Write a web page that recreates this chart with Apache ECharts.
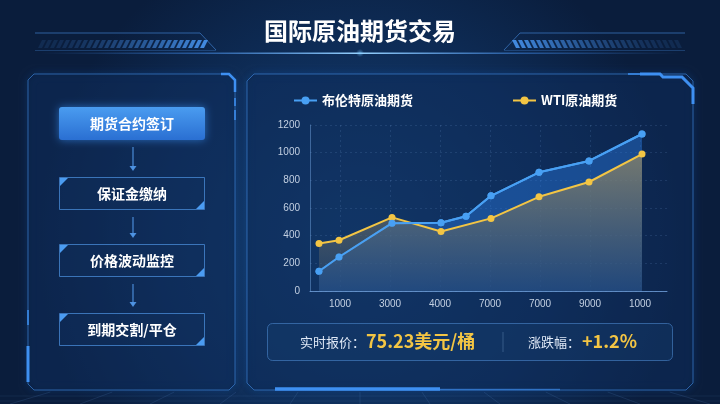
<!DOCTYPE html>
<html>
<head>
<meta charset="utf-8">
<script src="https://cdn.jsdelivr.net/npm/echarts/dist/echarts.min.js"></script>
<style>
html,body{margin:0;padding:0;background:#0b1f3e;}
#main{width:720px;height:404px;}
</style>
</head>
<body>
<div id="main"></div>
<script>
// ---------- data ----------
const titleText = '国际原油期货交易';
const seriesNames = ['布伦特原油期货', 'WTI原油期货'];
const xTickPositions = [1, 2, 3, 4, 5, 6, 7];
const xTickLabels = ['1000', '3000', '4000', '7000', '7000', '9000', '1000'];
const brentX = [0.58, 0.98, 2.04, 3.02, 3.52, 4.02, 4.98, 5.98, 7.04];
const brentY = [143, 246, 490, 493, 541, 688, 858, 940, 1135];
const wtiX = [0.58, 0.98, 2.04, 3.02, 4.02, 4.98, 5.98, 7.04];
const wtiY = [343, 367, 532, 430, 525, 681, 788, 990];
const flowSteps = ['期货合约签订', '保证金缴纳', '价格波动监控', '到期交割/平仓'];
const priceLabel = '实时报价：';
const priceValue = '75.23美元/桶';
const changeLabel = '涨跌幅：';
const changeValue = '+1.2%';

const brentData = brentX.map((x, i) => [x, brentY[i]]);
const wtiData = wtiX.map((x, i) => [x, wtiY[i]]);

const CJK = "'Noto Sans CJK SC', 'Noto Sans', sans-serif";
const BLUE = '#48a0f4';
const GOLD = '#f3c544';
const BRIGHT = '#3e90f2';

// ---------- decorations ----------
const g = [];
// title underline glow
g.push({type:'rect', silent:true, shape:{x:40, y:52.5, width:640, height:1.5},
  style:{fill:{type:'linear', x:0, y:0, x2:1, y2:0, colorStops:[
    {offset:0, color:'rgba(60,130,220,0)'},{offset:0.25, color:'rgba(60,130,220,0.55)'},
    {offset:0.5, color:'rgba(150,210,255,1)'},{offset:0.75, color:'rgba(60,130,220,0.55)'},
    {offset:1, color:'rgba(60,130,220,0)'}]}}});
g.push({type:'ellipse', silent:true, shape:{cx:360, cy:53, rx:70, ry:4},
  style:{fill:{type:'radial', x:0.5, y:0.5, r:0.5, colorStops:[
    {offset:0, color:'rgba(120,200,255,0.55)'},{offset:1, color:'rgba(120,200,255,0)'}]}}});

// striped header decorations
function stripes(mirror) {
  const mx = x => mirror ? 720 - x : x;
  g.push({type:'polyline', silent:true, shape:{points:[[mx(35),33],[mx(200),33],[mx(216),50]]},
    style:{stroke:'rgba(70,140,225,0.6)', lineWidth:1, fill:null}});
  g.push({type:'line', silent:true, shape:{x1:mx(35), y1:50.5, x2:mx(216), y2:50.5},
    style:{stroke:'rgba(70,140,225,0.3)', lineWidth:1}});
  for (let i = 0; i < 28; i++) {
    const x = 38 + i * 6;
    const a = 0.12 + 0.8 * Math.pow(i / 27, 1.6);
    const pts = [[x + 4, 40], [x + 8, 40], [x + 4, 48], [x, 48]].map(p => [mx(p[0]), p[1]]);
    g.push({type:'polygon', silent:true, shape:{points:pts}, style:{fill:'rgba(70,145,235,' + a.toFixed(2) + ')'}});
  }
}
stripes(false);
stripes(true);

// title
g.push({type:'text', silent:true, style:{text:titleText, x:360, y:31, align:'center', verticalAlign:'middle',
  fill:'#ffffff', font:'bold 24px ' + CJK, shadowColor:'rgba(80,160,255,0.6)', shadowBlur:6}});

// floor grid
for (let xb = -900; xb <= 1620; xb += 70) {
  const x1 = 360 + (xb - 360) * (392 - 300) / 104;
  const x2 = xb;
  g.push({type:'line', silent:true, shape:{x1:x1, y1:392, x2:x2, y2:404}, style:{stroke:'rgba(110,160,230,0.14)', lineWidth:1}});
}
[396, 401].forEach(y => g.push({type:'line', silent:true, shape:{x1:0, y1:y, x2:720, y2:y}, style:{stroke:'rgba(110,160,230,0.1)', lineWidth:1}}));

// panels
function panel(x1, y1, x2, y2, c) {
  return [[x1 + c, y1], [x2 - c, y1], [x2, y1 + c], [x2, y2 - c], [x2 - c, y2], [x1 + c, y2], [x1, y2 - c], [x1, y1 + c]];
}
g.push({type:'polygon', silent:true, shape:{points:panel(28, 74, 235, 390, 6)},
  style:{fill:'rgba(10,32,66,0.45)', stroke:'rgba(55,120,200,0.75)', lineWidth:1, shadowColor:'rgba(40,120,230,0.35)', shadowBlur:8}});
g.push({type:'polygon', silent:true, shape:{points:panel(247, 74, 693, 390, 7)},
  style:{fill:'rgba(10,32,66,0.45)', stroke:'rgba(55,120,200,0.75)', lineWidth:1, shadowColor:'rgba(40,120,230,0.35)', shadowBlur:8}});
// accents
g.push({type:'polyline', silent:true, shape:{points:[[221,74],[229,74],[235,80],[235,92]]}, style:{stroke:BRIGHT, lineWidth:2.5, fill:null}});
g.push({type:'line', silent:true, shape:{x1:235, y1:98, x2:235, y2:106}, style:{stroke:BRIGHT, lineWidth:1.5}});
g.push({type:'line', silent:true, shape:{x1:235, y1:110, x2:235, y2:120}, style:{stroke:BRIGHT, lineWidth:1.5}});
g.push({type:'line', silent:true, shape:{x1:28, y1:346, x2:28, y2:382}, style:{stroke:BRIGHT, lineWidth:3}});
g.push({type:'line', silent:true, shape:{x1:28, y1:310, x2:28, y2:325}, style:{stroke:BRIGHT, lineWidth:1.5}});
g.push({type:'polyline', silent:true, shape:{points:[[640,74],[660,74],[663,77],[682,77],[693,88],[693,104]]}, style:{stroke:BRIGHT, lineWidth:3, fill:null}});
g.push({type:'line', silent:true, shape:{x1:628, y1:74, x2:640, y2:74}, style:{stroke:BRIGHT, lineWidth:1.5}});
g.push({type:'line', silent:true, shape:{x1:275, y1:389, x2:440, y2:389}, style:{stroke:BRIGHT, lineWidth:3.5}});
g.push({type:'line', silent:true, shape:{x1:440, y1:389.5, x2:560, y2:389.5}, style:{stroke:'rgba(62,144,242,0.6)', lineWidth:1.5}});

// flow boxes
const boxTops = [107, 177, 244, 313];
const boxH = 33;
flowSteps.forEach((t, i) => {
  const y = boxTops[i];
  if (i === 0) {
    g.push({type:'rect', silent:true, shape:{x:59, y:y, width:146, height:boxH, r:3},
      style:{fill:{type:'linear', x:0, y:0, x2:0, y2:1, colorStops:[{offset:0, color:'#4a9cf0'},{offset:1, color:'#2a6fd2'}]},
        shadowColor:'rgba(60,150,255,0.6)', shadowBlur:8}});
  } else {
    g.push({type:'rect', silent:true, shape:{x:59.5, y:y + 0.5, width:145, height:boxH - 1},
      style:{fill:'rgba(18,50,95,0.35)', stroke:'rgba(70,135,210,0.8)', lineWidth:1}});
    g.push({type:'polygon', silent:true, shape:{points:[[60,y + 1],[68,y + 1],[60,y + 9]]}, style:{fill:'#4b9cf2'}});
    g.push({type:'polygon', silent:true, shape:{points:[[204,y + boxH - 1],[196,y + boxH - 1],[204,y + boxH - 9]]}, style:{fill:'#4b9cf2'}});
  }
  g.push({type:'text', silent:true, style:{text:t, x:132, y:y + boxH / 2 + 0.5, align:'center', verticalAlign:'middle',
    fill:'#ffffff', font:'bold 14px ' + CJK}});
  if (i < flowSteps.length - 1) {
    const a1 = y + boxH + 7, a2 = boxTops[i + 1] - 8;
    g.push({type:'line', silent:true, shape:{x1:133, y1:a1, x2:133, y2:a2}, style:{stroke:'rgba(80,150,230,0.9)', lineWidth:1.2}});
    g.push({type:'polygon', silent:true, shape:{points:[[129.5,a2 - 3],[136.5,a2 - 3],[133,a2 + 2]]}, style:{fill:'rgba(80,150,230,0.95)'}});
  }
});

// info box
g.push({type:'rect', silent:true, shape:{x:267.5, y:323.5, width:405, height:37, r:5},
  style:{fill:'rgba(22,62,112,0.35)', stroke:'rgba(75,135,205,0.6)', lineWidth:1}});
g.push({type:'line', silent:true, shape:{x1:503, y1:332, x2:503, y2:352}, style:{stroke:'rgba(120,160,210,0.35)', lineWidth:1}});
g.push({type:'text', silent:true, style:{text:priceLabel, x:300, y:342, align:'left', verticalAlign:'middle', fill:'#dfe8f6', font:'13px ' + CJK}});
g.push({type:'text', silent:true, style:{text:priceValue, x:366, y:341, align:'left', verticalAlign:'middle', fill:GOLD, font:'bold 18px ' + CJK}});
g.push({type:'text', silent:true, style:{text:changeLabel, x:528, y:342, align:'left', verticalAlign:'middle', fill:'#dfe8f6', font:'13px ' + CJK}});
g.push({type:'text', silent:true, style:{text:changeValue, x:582, y:341, align:'left', verticalAlign:'middle', fill:GOLD, font:'bold 18px ' + CJK}});

// ---------- chart ----------
const chart = echarts.init(document.getElementById('main'));
const option = {
  backgroundColor: {type:'radial', x:0.5, y:0.6, r:0.8, colorStops:[
    {offset:0, color:'#133f72'}, {offset:0.6, color:'#0e2d58'}, {offset:1, color:'#0a1d3c'}]},
  animation: false,
  graphic: {elements: g},
  legend: {
    data: seriesNames,
    left: 288, top: 89,
    itemWidth: 23, itemHeight: 10, itemGap: 99,
    textStyle: {color:'#ffffff', fontSize:13, fontWeight:'bold', fontFamily:CJK}
  },
  grid: {left:310, top:125, width:357, height:166, containLabel:false},
  xAxis: {
    type: 'value', min: 0.4, max: 7.54,
    axisLine: {show:true, lineStyle:{color:'rgba(120,170,230,0.75)', width:1}},
    axisTick: {show:false, customValues: xTickPositions},
    axisLabel: {customValues: xTickPositions, formatter: v => xTickLabels[xTickPositions.indexOf(Math.round(v))] || '',
      color:'#c3d0e2', fontSize:10, margin:8, fontFamily:"'Liberation Sans', Arial, sans-serif"},
    splitLine: {show:true, lineStyle:{color:'rgba(120,160,215,0.16)', type:[2,3]}}
  },
  yAxis: {
    type: 'value', min: 0, max: 1200, interval: 200,
    axisLine: {show:true, lineStyle:{color:'rgba(120,170,230,0.45)', width:1}},
    axisTick: {show:false},
    axisLabel: {formatter: v => String(v), color:'#c3d0e2', fontSize:10, margin:10, fontFamily:"'Liberation Sans', Arial, sans-serif"},
    splitLine: {show:true, lineStyle:{color:'rgba(120,160,215,0.16)', type:[2,3]}}
  },
  series: [
    {
      name: seriesNames[0], type:'line', data: brentData, z: 2,
      symbol:'circle', symbolSize:7, itemStyle:{color:BLUE},
      lineStyle:{color:BLUE, width:2},
      areaStyle:{color:'rgba(42,122,225,0.62)'}
    },
    {
      name: seriesNames[1], type:'line', data: wtiData, z: 3,
      symbol:'circle', symbolSize:7, itemStyle:{color:GOLD},
      lineStyle:{color:GOLD, width:2},
      areaStyle:{color:{type:'linear', x:0, y:0, x2:0, y2:1, colorStops:[
        {offset:0, color:'rgba(165,145,95,0.92)'}, {offset:1, color:'rgba(38,68,108,0.85)'}]}}
    },
    {
      name: seriesNames[0], type:'line', data: brentData, z: 4,
      symbol:'circle', symbolSize:7, itemStyle:{color:BLUE},
      lineStyle:{color:BLUE, width:2}
    }
  ]
};
chart.setOption(option);
</script>
</body>
</html>
